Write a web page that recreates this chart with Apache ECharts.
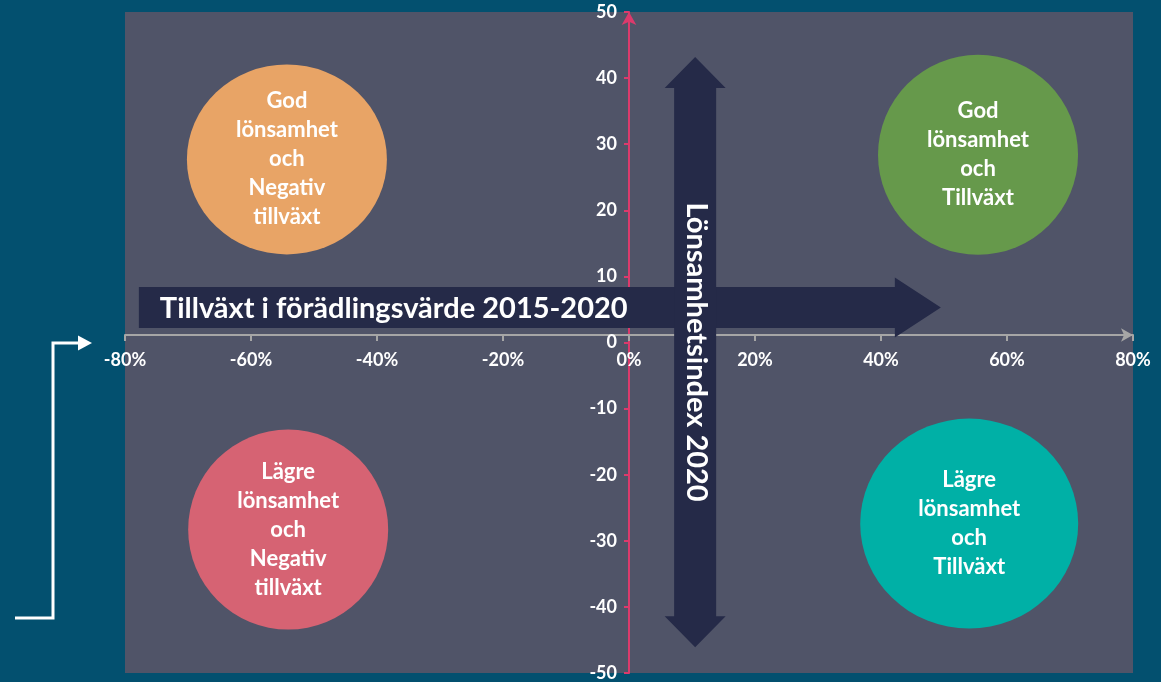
<!DOCTYPE html>
<html>
<head>
<meta charset="utf-8">
<script src="https://cdn.jsdelivr.net/npm/echarts@6/dist/echarts.min.js"></script>
<style>
  html, body { margin: 0; padding: 0; background: #03506f; }
  #chart { width: 1161px; height: 682px; }
</style>
</head>
<body>
<div id="chart"></div>
<script>
// Quadrant circles: name, x (growth %), y (profitability index)
var circleNames = [
	'God\nlönsamhet\noch\nNegativ\ntillväxt',
	'God\nlönsamhet\noch\nTillväxt',
	'Lägre\nlönsamhet\noch\nNegativ\ntillväxt',
	'Lägre\nlönsamhet\noch\nTillväxt'
];
var circleX = [-54.3, 55.4, -54.1, 54.0];
var circleY = [27.7, 28.4, -28.3, -27.4];

// Axis ranges and ticks
var xTicks = [-80, -60, -40, -20, 0, 20, 40, 60, 80];
var yTicks = [-50, -40, -30, -20, -10, 0, 10, 20, 30, 40, 50];

// Arrows in value space: [startX, startY, endX, endY]
var hArrow = [-77.8, 5.3, 49.5, 5.3];
var vArrow = [10.5, 43.2, 10.5, -46.1];
var hArrowText = 'Tillväxt i förädlingsvärde 2015-2020';
var vArrowText = 'Lönsamhetsindex 2020';

var circleColors = ['#e8a466', '#66994b', '#d66373', '#00b0a6'];
var circleSizes = [[200, 190], [200, 200], [200, 200], [218, 210]];

var chart = echarts.init(document.getElementById('chart'));

var circleData = circleNames.map(function (n, i) {
	return {
		name: n,
		value: [circleX[i], circleY[i]],
		symbolSize: circleSizes[i],
		itemStyle: { color: circleColors[i], opacity: 1 }
	};
});

function renderHArrow(params, api) {
	var p0 = api.coord([api.value(0), api.value(1)]);
	var p1 = api.coord([api.value(2), api.value(3)]);
	var cy = p0[1];
	var bh = 20.5, hh = 30, hl = 46;
	return {
		type: 'group',
		children: [{
			type: 'polygon',
			shape: {
				points: [
					[p0[0], cy - bh], [p1[0] - hl, cy - bh], [p1[0] - hl, cy - hh],
					[p1[0], cy], [p1[0] - hl, cy + hh], [p1[0] - hl, cy + bh], [p0[0], cy + bh]
				]
			},
			style: { fill: '#252a48' }
		}, {
			type: 'text',
			style: {
				text: hArrowText,
				x: p0[0] + 21,
				y: cy + 1,
				verticalAlign: 'middle',
				fill: '#ffffff',
				font: 'bold 29px Lato'
			}
		}]
	};
}

function renderVArrow(params, api) {
	var t = api.coord([api.value(0), api.value(1)]);
	var b = api.coord([api.value(2), api.value(3)]);
	var cx = t[0], ty = t[1], by = b[1];
	var bw = 21, hw = 30.5, hl = 31;
	return {
		type: 'group',
		children: [{
			type: 'polygon',
			shape: {
				points: [
					[cx, ty], [cx + hw, ty + hl], [cx + bw, ty + hl], [cx + bw, by - hl],
					[cx + hw, by - hl], [cx, by], [cx - hw, by - hl], [cx - bw, by - hl],
					[cx - bw, ty + hl], [cx - hw, ty + hl]
				]
			},
			style: { fill: '#252a48' }
		}, {
			type: 'text',
			x: cx + 1,
			y: (ty + by) / 2,
			rotation: -Math.PI / 2,
			style: {
				text: vArrowText,
				x: 0,
				y: 0,
				align: 'center',
				verticalAlign: 'middle',
				fill: '#ffffff',
				font: 'bold 29px Lato'
			}
		}]
	};
}

var labelFont = { color: '#ffffff', fontFamily: 'Lato', fontWeight: 'bold', fontSize: 18 };

var option = {
	backgroundColor: '#03506f',
	animation: false,
	grid: {
		left: 125, right: 28, top: 12, bottom: 7,
		show: true, backgroundColor: '#505468', borderWidth: 0
	},
	xAxis: {
		type: 'value',
		min: xTicks[0], max: xTicks[xTicks.length - 1], interval: 20,
		position: 'bottom',
		offset: -338,
		axisLine: {
			onZero: false,
			lineStyle: { color: '#a6a6a6', width: 2 },
			symbol: ['none', 'arrow'],
			symbolSize: [10, 12]
		},
		axisTick: { show: true, length: 6, lineStyle: { color: '#a6a6a6', width: 2 } },
		axisLabel: Object.assign({ margin: 16, formatter: '{value}%' }, labelFont),
		splitLine: { show: false }
	},
	yAxis: {
		type: 'value',
		min: yTicks[0], max: yTicks[yTicks.length - 1], interval: 10,
		position: 'left',
		offset: -504,
		axisLine: {
			onZero: false,
			lineStyle: { color: '#dc3a6c', width: 2 },
			symbol: ['none', 'arrow'],
			symbolSize: [11, 13]
		},
		axisTick: { show: true, length: 5, inside: false, lineStyle: { color: '#dc3a6c', width: 2 } },
		axisLabel: Object.assign({ margin: 12 }, labelFont),
		splitLine: { show: false }
	},
	graphic: [{
		type: 'polyline',
		shape: { points: [[15, 618], [53, 618], [53, 343], [79, 343]] },
		style: { stroke: '#ffffff', lineWidth: 3, fill: null }
	}, {
		type: 'polygon',
		shape: { points: [[78, 335.5], [92, 343], [78, 350.5]] },
		style: { fill: '#ffffff' }
	}],
	series: [{
		type: 'scatter',
		z: 3,
		symbol: 'circle',
		data: circleData,
		label: {
			show: true,
			position: 'inside',
			formatter: function (p) { return p.name; },
			color: '#ffffff',
			fontFamily: 'Lato',
			fontWeight: 'bold',
			fontSize: 22,
			lineHeight: 29
		},
		emphasis: { disabled: true }
	}, {
		type: 'custom',
		z: 4,
		clip: false,
		renderItem: renderHArrow,
		encode: { x: [0, 2], y: [1, 3] },
		data: [hArrow]
	}, {
		type: 'custom',
		z: 5,
		clip: false,
		renderItem: renderVArrow,
		encode: { x: [0, 2], y: [1, 3] },
		data: [vArrow]
	}]
};

chart.setOption(option);
</script>
</body>
</html>
